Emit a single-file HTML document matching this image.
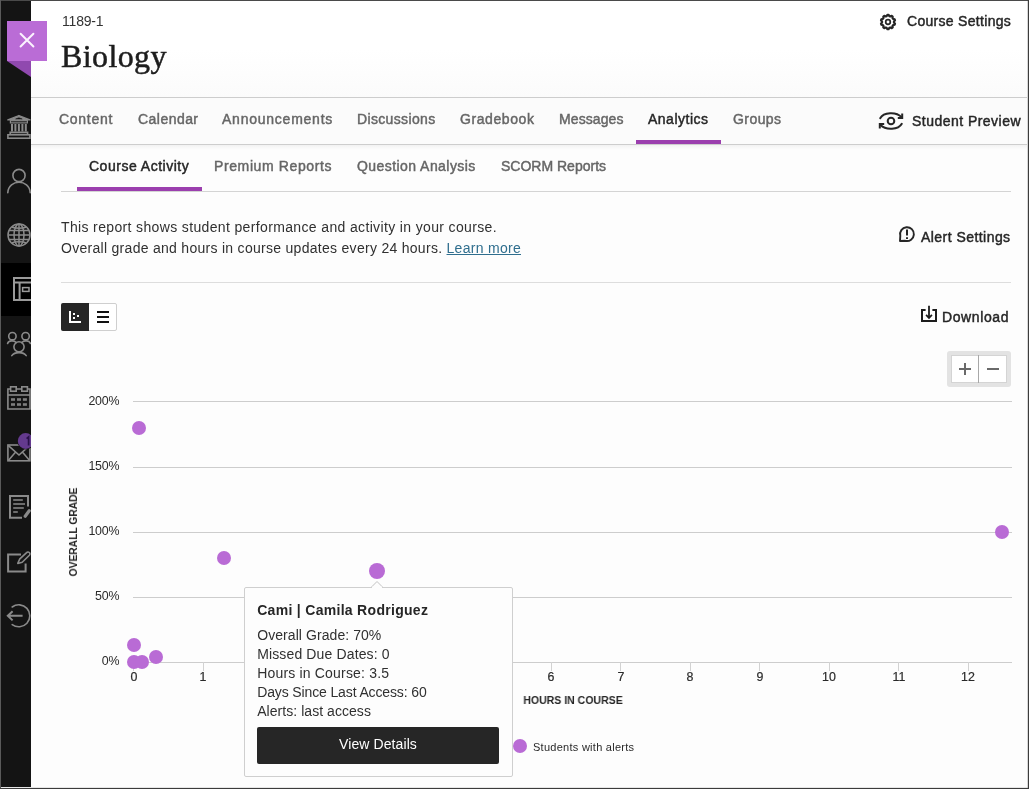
<!DOCTYPE html>
<html lang="en">
<head>
<meta charset="utf-8">
<title>Biology - Course Activity</title>
<style>
*{box-sizing:border-box;margin:0;padding:0}
html,body{width:1029px;height:789px;overflow:hidden}
body{font-family:"Liberation Sans",sans-serif;font-size:14px;color:#262626;background:#fdfdfd;position:relative}
.abs{position:absolute}
/* frame */
#frame-t{left:0;top:0;width:1029px;height:1px;background:#4a4a4a;z-index:50}
#frame-l{left:0;top:0;width:1px;height:789px;background:#5a5a5a;z-index:50}
#frame-r{left:1027px;top:0;width:2px;height:789px;background:linear-gradient(90deg,rgba(60,60,60,0.2) 0,rgba(60,60,60,0.2) 50%,#3c3c3c 50%,#3c3c3c 100%);z-index:50}
#frame-b{left:0;top:787px;width:1029px;height:2px;background:linear-gradient(180deg,rgba(60,60,60,0.12) 0,rgba(60,60,60,0.12) 50%,#3c3c3c 50%,#3c3c3c 100%);z-index:50}
/* sidebar */
#side{left:1px;top:1px;width:30px;height:786px;background:#141414;overflow:hidden}
#side .active{left:0;top:262px;width:30px;height:53px;background:#000}
#side svg{position:absolute;overflow:visible}
#close{left:7px;top:21px;width:40px;height:40px;background:#ba6cd6;z-index:5}
#fold{left:7px;top:61px;width:0;height:0;border-left:24px solid transparent;border-top:16px solid #9049af;z-index:5}
/* header */
#header{left:31px;top:1px;width:996px;height:96px;background:linear-gradient(#ffffff 0%,#ffffff 50%,#fbfbfb 100%)}
#cid{left:61.5px;top:13px;font-size:14px;line-height:16px;color:#333;letter-spacing:-0.19px}
#title{left:61px;top:37px;font-family:"Liberation Serif",serif;font-size:32px;line-height:38px;color:#1d1d1d;letter-spacing:0.4px;-webkit-text-stroke:0.5px #1d1d1d}
.sb{font-weight:400;-webkit-text-stroke:0.45px currentColor}
/* nav */
#nav{left:31px;top:97px;width:996px;height:48px;background:#fbfbfb;border-top:1px solid #cdcdcd;border-bottom:1px solid #cdcdcd}
#navshadow{left:31px;top:145px;width:996px;height:5px;background:linear-gradient(rgba(0,0,0,0.045),rgba(0,0,0,0))}
.tab{position:absolute;white-space:nowrap;line-height:18px;font-size:14px;color:#666}
.tab.on{color:#262626}
.ul{position:absolute;height:4px;background:#9b3fae}
.hr{position:absolute;height:1px;background:#d4d4d4}

.act{position:absolute;white-space:nowrap;line-height:18px;font-size:14px;color:#262626}
.ico{position:absolute;overflow:visible}
#desc{left:61px;top:217px;line-height:21px;font-size:14px;color:#303030;white-space:nowrap}
#desc a{color:#2f6e8e;text-decoration:underline}
#tog{left:61px;top:303px;width:56px;height:28px;border-radius:2px;background:#fff;border:1px solid #cfcfcf}
#tog .d{left:-1px;top:-1px;width:28px;height:28px;background:#262626;border-radius:2px 0 0 2px}
#zoom{left:947px;top:351px;width:64px;height:36px;border-radius:3px;background:#e3e3e3}
#zoom .in{left:4px;top:4px;width:56px;height:28px;background:#fff;border:1px solid #d4d4d4}
#zoom .dv{left:31px;top:4px;width:1px;height:28px;background:#a8a8a8}

.gl{position:absolute;left:133px;width:879px;height:1px;background:#cdcdcd}
.yl{position:absolute;left:60px;width:59.3px;text-align:right;font-size:12.4px;line-height:14px;color:#2a2a2a;letter-spacing:-0.2px}
.xl{position:absolute;width:40px;margin-left:-20px;text-align:center;font-size:12.4px;line-height:14px;color:#2a2a2a;top:670px;-webkit-text-stroke:0.2px #2a2a2a}
.tk{position:absolute;width:1px;height:9px;top:662px;background:#d2d2d2}
.dot{position:absolute;border-radius:50%;background:#b96bd5}
#ytitle{left:73px;top:532px;width:0;height:0}
#ytitle span{position:absolute;left:-60px;top:-8px;width:120px;height:16px;line-height:16px;text-align:center;font-weight:700;font-size:11.5px;color:#262626;transform:rotate(-90deg) scaleX(0.893);white-space:nowrap}
#xtitle{left:512.5px;top:692px;width:120px;height:16px;line-height:16px;text-align:center;font-weight:700;font-size:11.5px;color:#262626;transform:scaleX(0.915);white-space:nowrap}
#legend{left:533px;top:739.5px;font-size:11px;line-height:14px;color:#2a2a2a;letter-spacing:0.27px;white-space:nowrap}
#tip{left:244px;top:587px;width:269px;height:190px;background:#fdfdfd;border:1px solid #cfcfcf;border-radius:2px;z-index:10}
#tip h4{position:absolute;left:12.2px;top:13px;font-size:14px;line-height:18px;font-weight:700;color:#262626;letter-spacing:0.3px;white-space:nowrap}
#tip p{position:absolute;left:12.2px;font-size:14px;line-height:18px;color:#303030;white-space:nowrap;letter-spacing:-0.13px}
#tip .btn{position:absolute;left:12px;top:139px;width:242px;height:37px;background:#262626;border-radius:2px;color:#fff;text-align:center;line-height:35px;font-size:14px;letter-spacing:0.1px}
#tiparrow{left:371.4px;top:580.3px;width:12px;height:12px;z-index:11}
.tab,.act,#desc,#tip,.yl,.xl,#cid,#title,#legend,#xtitle,#ytitle{will-change:transform}
</style>
</head>
<body>
<div id="header" class="abs"></div>
<div id="nav" class="abs"></div>
<div id="navshadow" class="abs"></div>

<div id="side" class="abs"><div class="abs active"></div></div>

<div class="abs" id="sideicons" style="left:0;top:0;width:31px;height:789px;overflow:hidden;z-index:3">
<svg class="ico" style="left:0;top:0" width="40" height="789" viewBox="0 0 40 789" fill="none" stroke="#8a8a8a" stroke-width="1.6">
<!-- institution -->
<g>
<path d="M7.8 119.9 L18.9 115.5 L30 119.9 Z" stroke-width="1.3" stroke-linejoin="round" fill="#8a8a8a"/>
<path d="M15.6 119 L18.9 117.7 L22.2 119 Z" stroke="#141414" fill="#141414" stroke-width="0.5" stroke-linejoin="round"/>
<rect x="10.4" y="120.7" width="17" height="2.2" stroke-width="1.2"/>
<path d="M12 124 V131.6 M15.4 124 V131.6 M18.9 124 V131.6 M22.4 124 V131.6 M25.8 124 V131.6" stroke-width="2"/>
<path d="M10.2 134.6 V132.4 H27.6 V134.6"/>
<rect x="7.9" y="134.8" width="22" height="3.4"/>
</g>
<!-- profile -->
<circle cx="19" cy="175.5" r="6.1"/>
<path d="M7.8 192.6 C8.5 178.8 29.5 178.8 30.2 192.6" stroke-linecap="round"/>
<!-- globe -->
<g stroke-width="1.5">
<circle cx="19" cy="235" r="11"/>
<ellipse cx="19" cy="235" rx="5" ry="11"/>
<path d="M19 224 V246 M8 235 H30 M9 230.6 H29 M9 239.4 H29"/>
<path d="M11.6 227 C15 228.6 23 228.6 26.4 227 M11.6 243 C15 241.4 23 241.4 26.4 243"/>
</g>
<!-- courses (active) -->
<g stroke="#9a9a9a" stroke-width="2">
<rect x="14" y="278" width="24" height="22"/>
<path d="M14 282.6 H38 M19.6 282.6 V300"/>
<rect x="22.6" y="287.6" width="6.4" height="3.8" stroke-width="1.5"/>
</g>
<!-- organizations -->
<g stroke-linecap="round">
<circle cx="12.4" cy="336.2" r="3.7"/><circle cx="25.6" cy="336.2" r="3.7"/>
<path d="M7.6 343.4 C8.6 340.4 14 340 16.2 342.6 M30.4 343.4 C29.4 340.4 24 340 21.8 342.6"/>
<circle cx="19" cy="346.8" r="5.1"/>
<path d="M11.8 355.6 C14.5 351.6 23.5 351.6 26.2 355.6"/>
</g>
<!-- calendar -->
<g>
<path d="M10.4 389 H7.9 V409 H30 V389 H27.6 M16.4 389 H21.6"/>
<rect x="10.6" y="386.8" width="5.6" height="4.4"/><rect x="21.8" y="386.8" width="5.6" height="4.4"/>
<path d="M7.9 395 H30"/>
<g fill="#7e7e7e" stroke="none"><rect x="11" y="398.2" width="4" height="2.6"/><rect x="17" y="398.2" width="4" height="2.6"/><rect x="22.9" y="398.2" width="4" height="2.6"/>
<rect x="11" y="403.2" width="4" height="2.6"/><rect x="17" y="403.2" width="4" height="2.6"/><rect x="22.9" y="403.2" width="4" height="2.6"/></g>
</g>
<!-- messages -->
<g>
<rect x="7.9" y="445" width="22" height="15.8"/>
<path d="M8.4 445.6 L19 455 L29.6 445.6 M8.4 460.4 L15.6 452 M29.6 460.4 L22.4 452"/>
<circle cx="25.7" cy="441" r="8.6" fill="#141414" stroke="none"/>
<circle cx="25.7" cy="441" r="7.9" fill="#643a8e" stroke="none"/>
<path d="M26.6 438.6 L28.6 436.8 V445.4" stroke="#2a124a" stroke-width="1.7"/>
</g>
<!-- grades -->
<g>
<path d="M22 517.8 H10 V496 H28 V506.4" stroke-width="2"/>
<path d="M13.2 500 H22.8 M13.2 504 H25 M13.2 508 H23.8 M13.2 512 H17.8" stroke-width="1.5"/>
<path d="M25.2 516.2 L29.2 510.8" stroke-width="3.2" stroke-linecap="round"/>
</g>
<!-- tools -->
<g>
<path d="M21 554.6 H8.1 V571.6 H25.6 V563.4" stroke-width="2"/>
<path d="M17.8 563.4 L19.6 559.2 L26.6 552.6 A1.9 1.9 0 0 1 29.4 555.2 L22.2 562.2 Z" stroke-linejoin="round"/>
</g>
<!-- sign out -->
<g>
<path d="M12.2 607 A11 11 0 1 1 12.2 624.6" stroke-linecap="round"/>
<path d="M7.8 615.8 H22.6 M12.6 611.2 L7.8 615.8 L12.6 620.4" stroke-width="2" stroke-linejoin="miter"/>
</g>
</svg>
</div>
<div id="close" class="abs"><svg class="ico" style="left:0;top:0" width="40" height="40" viewBox="0 0 40 40"><path d="M13.6 12.7 L26.4 25.5 M26.4 12.7 L13.6 25.5" stroke="#fbf3fe" stroke-width="2" stroke-linecap="round" fill="none"/></svg></div>
<div id="fold" class="abs"></div>

<div id="cid" class="abs">1189-1</div>
<div id="title" class="abs">Biology</div>

<!-- main nav tabs -->
<div class="tab sb" style="left:59px;top:110px;letter-spacing:0.71px">Content</div>
<div class="tab sb" style="left:138px;top:110px;letter-spacing:0.46px">Calendar</div>
<div class="tab sb" style="left:222px;top:110px;letter-spacing:0.76px">Announcements</div>
<div class="tab sb" style="left:357px;top:110px;letter-spacing:0.35px">Discussions</div>
<div class="tab sb" style="left:460px;top:110px;letter-spacing:0.58px">Gradebook</div>
<div class="tab sb" style="left:559px;top:110px;letter-spacing:0.09px">Messages</div>
<div class="tab sb on" style="left:648px;top:110px;letter-spacing:0.50px">Analytics</div>
<div class="tab sb" style="left:733px;top:110px;letter-spacing:0.43px">Groups</div>
<div class="ul" style="left:636px;top:140px;width:85px"></div>
<!-- sub tabs -->
<div class="tab sb on" style="left:89px;top:157px;letter-spacing:0.51px">Course Activity</div>
<div class="tab sb" style="left:214px;top:157px;letter-spacing:0.61px">Premium Reports</div>
<div class="tab sb" style="left:357px;top:157px;letter-spacing:0.44px">Question Analysis</div>
<div class="tab sb" style="left:501px;top:157px;letter-spacing:0.00px">SCORM Reports</div>
<div class="hr" style="left:61px;top:191px;width:950px"></div>
<div class="ul" style="left:77px;top:187px;width:125px"></div>


<!-- header actions -->
<svg class="ico" style="left:880px;top:14px" width="16" height="16" viewBox="0 0 16 16"><path d="M7.44 0.82 L8.56 0.82 L9.40 2.17 L10.30 2.46 L11.76 1.86 L12.68 2.53 L12.56 4.10 L13.12 4.87 L14.65 5.24 L15.00 6.32 L13.98 7.53 L13.98 8.47 L15.00 9.68 L14.65 10.76 L13.12 11.13 L12.56 11.90 L12.68 13.47 L11.76 14.14 L10.30 13.54 L9.40 13.83 L8.56 15.18 L7.44 15.18 L6.60 13.83 L5.70 13.54 L4.24 14.14 L3.32 13.47 L3.44 11.90 L2.88 11.13 L1.35 10.76 L1.00 9.68 L2.02 8.47 L2.02 7.53 L1.00 6.32 L1.35 5.24 L2.88 4.87 L3.44 4.10 L3.32 2.53 L4.24 1.86 L5.70 2.46 L6.60 2.17 Z" fill="none" stroke="#262626" stroke-width="2.2" stroke-linejoin="round"/><circle cx="8" cy="8" r="2.3" fill="none" stroke="#262626" stroke-width="1.7"/></svg>
<div class="act sb" style="left:906.5px;top:12px;letter-spacing:0.3px">Course Settings</div>

<svg class="ico" style="left:879px;top:112px" width="24" height="18" viewBox="0 0 24 18" fill="none" stroke="#262626" stroke-width="2" stroke-linecap="round" stroke-linejoin="round">
<path d="M1.2 6.2 C4.5 0.2 17 -0.8 22.6 5.2"/><path d="M23.2 1.6 V6 H18.8" stroke-linecap="butt" stroke-linejoin="miter"/>
<path d="M22.8 11.8 C19.5 17.8 7 18.8 1.4 12.8"/><path d="M0.8 16.4 V12 H5.2" stroke-linecap="butt" stroke-linejoin="miter"/>
<circle cx="12" cy="9" r="3.3"/></svg>
<div class="act sb" style="left:911.5px;top:112px;letter-spacing:0.47px">Student Preview</div>

<!-- description -->
<div id="desc" class="abs"><span style="letter-spacing:0.357px">This report shows student performance and activity in your course.</span><br><span style="letter-spacing:0.287px">Overall grade and hours in course updates every 24 hours. <a>Learn more</a></span></div>
<svg class="ico" style="left:899px;top:226px" width="16" height="16" viewBox="0 0 16 16" fill="none" stroke="#262626" stroke-width="1.9" stroke-linecap="round" stroke-linejoin="round">
<path d="M1 15 L1.3 9.8 A6.9 6.9 0 1 1 6.4 14.8 Z"/><path d="M8 3.6 V9.6" stroke-linecap="butt" stroke-width="2"/><path d="M8 11.2 V13" stroke-linecap="butt" stroke-width="2"/></svg>
<div class="act sb" style="left:921px;top:228px;letter-spacing:0.45px">Alert Settings</div>
<div class="hr" style="left:61px;top:282px;width:950px;background:#dddddd"></div>

<!-- view toggle -->
<div id="tog" class="abs"><div class="abs d"></div>
<svg class="ico" style="left:7px;top:7px" width="14" height="14" viewBox="0 0 14 14"><path d="M1 0 V11 H12" fill="none" stroke="#fff" stroke-width="2"/><rect x="4" y="2" width="2" height="2" fill="#fff"/><rect x="4" y="6" width="2" height="2" fill="#fff"/><rect x="8" y="4" width="2" height="2" fill="#fff"/></svg>
<svg class="ico" style="left:35px;top:7px" width="14" height="14" viewBox="0 0 14 14"><path d="M0 1 H12 M0 6 H12 M0 11 H12" fill="none" stroke="#111" stroke-width="2"/></svg>
</div>

<!-- download -->
<svg class="ico" style="left:921px;top:305px" width="17" height="18" viewBox="0 0 17 18" fill="none" stroke="#1c1c1c" stroke-width="2">
<path d="M4.6 5 H1 V16 H15 V5 H11.4"/><path d="M8 0.8 V12.5" stroke-width="1.8"/><path d="M5.1 9.9 L8 13 L10.9 9.9" stroke-width="1.8"/></svg>
<div class="act sb" style="left:941.5px;top:308px;letter-spacing:0.6px">Download</div>

<!-- zoom -->
<div id="zoom" class="abs"><div class="abs in"></div><div class="abs dv"></div>
<svg class="ico" style="left:0;top:0" width="64" height="36" viewBox="0 0 64 36" stroke="#6a6a6a" stroke-width="2" fill="none"><path d="M12 18 H24 M18 12 V24 M40 18 H52"/></svg>
</div>

<!-- chart -->
<div class="gl" style="top:401px"></div><div class="yl" style="top:394.2px">200%</div>
<div class="gl" style="top:467px"></div><div class="yl" style="top:459.2px">150%</div>
<div class="gl" style="top:532px"></div><div class="yl" style="top:524.2px">100%</div>
<div class="gl" style="top:597px"></div><div class="yl" style="top:589.2px">50%</div>
<div class="gl" style="top:662px"></div><div class="yl" style="top:654.2px">0%</div>
<div class="tk" style="left:133px"></div><div class="xl" style="left:133.8px">0</div>
<div class="tk" style="left:203px"></div><div class="xl" style="left:203.4px">1</div>
<div class="tk" style="left:272px"></div><div class="xl" style="left:272.9px">2</div>
<div class="tk" style="left:342px"></div><div class="xl" style="left:342.4px">3</div>
<div class="tk" style="left:412px"></div><div class="xl" style="left:412.0px">4</div>
<div class="tk" style="left:481px"></div><div class="xl" style="left:481.6px">5</div>
<div class="tk" style="left:551px"></div><div class="xl" style="left:551.1px">6</div>
<div class="tk" style="left:620px"></div><div class="xl" style="left:620.6px">7</div>
<div class="tk" style="left:690px"></div><div class="xl" style="left:690.2px">8</div>
<div class="tk" style="left:759px"></div><div class="xl" style="left:759.8px">9</div>
<div class="tk" style="left:829px"></div><div class="xl" style="left:829.3px">10</div>
<div class="tk" style="left:898px"></div><div class="xl" style="left:898.8px">11</div>
<div class="tk" style="left:968px"></div><div class="xl" style="left:968.4px">12</div>
<div id="ytitle" class="abs"><span>OVERALL GRADE</span></div>
<div id="xtitle" class="abs">HOURS IN COURSE</div>
<div class="dot" style="left:131.8px;top:420.8px;width:14px;height:14px"></div>
<div class="dot" style="left:216.8px;top:550.8px;width:14px;height:14px"></div>
<div class="dot" style="left:368.8px;top:562.7px;width:16.6px;height:16.6px"></div>
<div class="dot" style="left:994.8px;top:525.2px;width:14px;height:14px"></div>
<div class="dot" style="left:126.8px;top:637.6px;width:14px;height:14px"></div>
<div class="dot" style="left:127.4px;top:655.0px;width:14px;height:14px"></div>
<div class="dot" style="left:135.1px;top:655.0px;width:14px;height:14px"></div>
<div class="dot" style="left:149.0px;top:650.3px;width:14px;height:14px"></div>
<div class="dot" style="left:513.0px;top:738.8px;width:14px;height:14px"></div>
<div id="legend" class="abs">Students with alerts</div>
<div id="tip" class="abs"><h4>Cami | Camila Rodriguez</h4>
<p style="top:38px;letter-spacing:0.07px">Overall Grade: 70%</p><p style="top:57px;letter-spacing:0.135px">Missed Due Dates: 0</p><p style="top:76px;letter-spacing:0.18px">Hours in Course: 3.5</p><p style="top:95px;letter-spacing:-0.13px">Days Since Last Access: 60</p><p style="top:114px;letter-spacing:0.05px">Alerts: last access</p>
<div class="btn">View Details</div></div>
<svg id="tiparrow" class="abs ico" width="12" height="12" viewBox="0 0 12 12"><path d="M0.5 7 L6 1.5 L11.5 7" fill="#fdfdfd" stroke="#c2c2c2" stroke-width="1"/><rect x="1" y="6.6" width="10" height="2" fill="#fdfdfd"/></svg>

<div id="frame-t" class="abs"></div><div id="frame-l" class="abs"></div><div id="frame-r" class="abs"></div><div id="frame-b" class="abs"></div>
</body>
</html>
